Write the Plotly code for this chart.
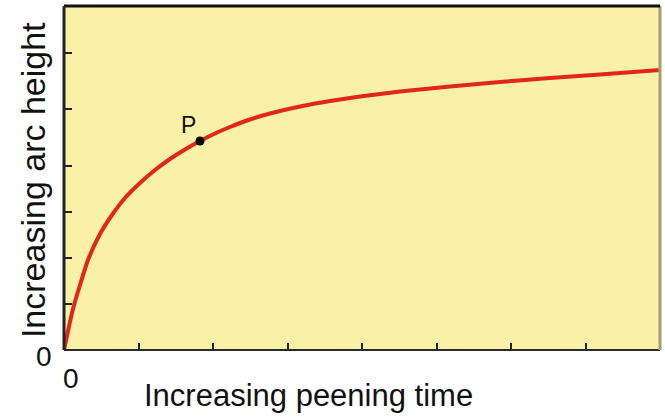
import plotly.graph_objects as go

# Data (pixel readings converted to axis units)
time_px = [64, 68, 73, 80, 88, 100, 112, 125, 140, 155, 170, 185, 200, 215, 230, 250, 270, 300,
           330, 360, 400, 450, 500, 550, 600, 660]
height_px = [350, 331, 309, 285, 260, 234, 215, 198, 183, 170, 159, 149.5, 141, 133.5, 127, 119.5, 113.5, 106.5,
             101, 96.5, 91.5, 86.5, 82, 78, 74.5, 70]
peening_time = [(p - 64) / 74.5 for p in time_px]
arc_height = [350 - p for p in height_px]

point_P_time = [(200 - 64) / 74.5]
point_P_height = [350 - 141]

x_ticks = [1, 2, 3, 4, 5, 6, 7]
y_ticks = [46, 92, 138, 184, 241, 297]

FONT = "Liberation Sans, Arial, sans-serif"

fig = go.Figure()
fig.add_trace(go.Scatter(x=peening_time, y=arc_height, mode="lines",
                         line=dict(color="#E3261C", width=4, shape="spline", smoothing=0.5),
                         hoverinfo="skip", showlegend=False))
fig.add_trace(go.Scatter(x=point_P_time, y=point_P_height, mode="markers",
                         marker=dict(color="black", size=9),
                         hoverinfo="skip", showlegend=False))

fig.update_layout(
    width=665, height=419,
    margin=dict(l=64, r=5, t=6, b=69),
    paper_bgcolor="white",
    plot_bgcolor="#F9F1A8",
    xaxis=dict(range=[0, 8], tickvals=x_ticks, ticktext=[""] * len(x_ticks),
               ticks="inside", ticklen=7, tickwidth=2, tickcolor="#222",
               showgrid=False, zeroline=False, showline=False),
    yaxis=dict(range=[0, 344], tickvals=y_ticks, ticktext=[""] * len(y_ticks),
               ticks="inside", ticklen=8, tickwidth=2, tickcolor="#222",
               showgrid=False, zeroline=False, showline=False),
    shapes=[
        dict(type="line", xref="paper", yref="paper", x0=0, x1=1, y0=0, y1=0,
             line=dict(color="#2a2a22", width=2)),
        dict(type="line", xref="paper", yref="paper", x0=1, x1=1, y0=0, y1=1,
             line=dict(color="#A39D72", width=3)),
        dict(type="line", xref="paper", yref="paper", x0=0, x1=1, y0=1, y1=1,
             line=dict(color="#111", width=3)),
        dict(type="line", xref="paper", yref="paper", x0=0, x1=0, y0=0, y1=1,
             line=dict(color="#222", width=3)),
    ],
    annotations=[
        dict(text="P", x=point_P_time[0], y=point_P_height[0], xref="x", yref="y",
             xshift=-12, yshift=16, showarrow=False,
             font=dict(family=FONT, size=23, color="#111")),
        dict(text="Increasing arc height", xref="paper", yref="paper", x=-0.052, y=0.494,
             xanchor="center", yanchor="middle", textangle=-90, showarrow=False,
             font=dict(family=FONT, size=34, color="#111")),
        dict(text="Increasing peening time", xref="paper", yref="paper", x=0.411, y=-0.131,
             xanchor="center", yanchor="middle", showarrow=False,
             font=dict(family=FONT, size=31, color="#111")),
        dict(text="0", xref="paper", yref="paper", x=-0.0336, y=-0.02,
             xanchor="center", yanchor="middle", showarrow=False,
             font=dict(family=FONT, size=28, color="#111")),
        dict(text="0", xref="paper", yref="paper", x=0.0117, y=-0.084,
             xanchor="center", yanchor="middle", showarrow=False,
             font=dict(family=FONT, size=28, color="#111")),
    ],
)

fig.write_html("out.html", config={"displayModeBar": False},
               post_script="document.body.style.margin='0';")
